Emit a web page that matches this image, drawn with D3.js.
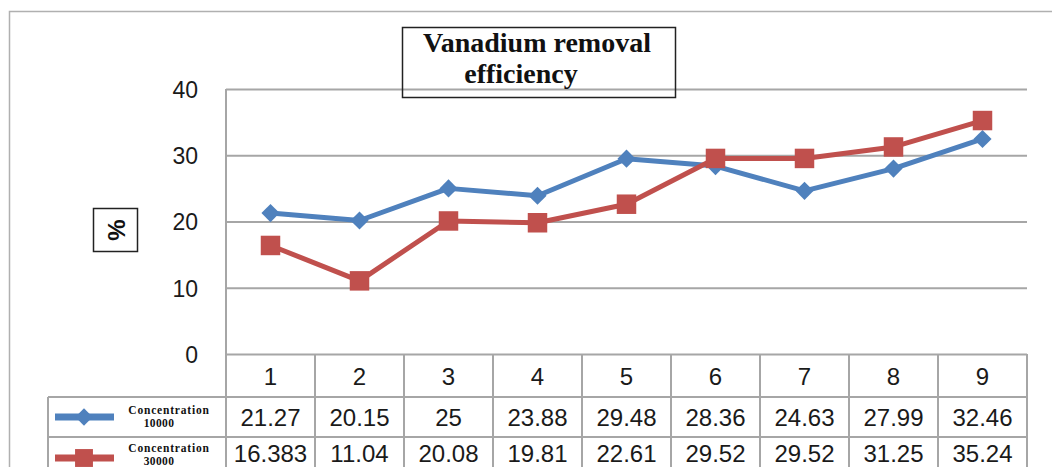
<!DOCTYPE html>
<html>
<head>
<meta charset="utf-8">
<script src="https://cdn.jsdelivr.net/npm/d3@7/dist/d3.min.js"></script>
<style>
  html, body { margin: 0; padding: 0; background: #fff; }
  svg { display: block; }
</style>
</head>
<body>
<div id="chart"></div>
<script>
// ---- data ----
const categories = ["1", "2", "3", "4", "5", "6", "7", "8", "9"];
const series10000 = [21.27, 20.15, 25, 23.88, 29.48, 28.36, 24.63, 27.99, 32.46];
const series30000 = [16.383, 11.04, 20.08, 19.81, 22.61, 29.52, 29.52, 31.25, 35.24];
const seriesNames = ["Concentration", "Concentration"];
const seriesSub = ["10000", "30000"];
const seriesLabels10000 = ["21.27", "20.15", "25", "23.88", "29.48", "28.36", "24.63", "27.99", "32.46"];
const seriesLabels30000 = ["16.383", "11.04", "20.08", "19.81", "22.61", "29.52", "29.52", "31.25", "35.24"];
const yTicks = [0, 10, 20, 30, 40];
const titleLines = ["Vanadium removal", "efficiency"];
const yTitle = "%";

// ---- layout ----
const W = 1052, H = 467;
const plot = { left: 226, right: 1027, top: 89, bottom: 354 };
const rowH = [43, 40, 40]; // category row, series rows
const legendLeft = 48;
const blue = "#4F81BD", red = "#C0504D", grid = "#a6a6a6";

const svg = d3.select("#chart").append("svg").attr("width", W).attr("height", H);

// outer border
svg.append("rect").attr("x", 9.5).attr("y", 11.5).attr("width", W + 20).attr("height", H + 20)
  .attr("fill", "none").attr("stroke", "#b0b0b0").attr("stroke-width", 1.5);

const x = d3.scaleBand().domain(categories).range([plot.left, plot.right]).padding(0);
const y = d3.scaleLinear().domain([0, 40]).range([plot.bottom, plot.top]);

// gridlines
const gAxis = svg.append("g").attr("transform", `translate(${plot.left},0)`)
  .call(d3.axisLeft(y).tickValues(yTicks).tickSize(-(plot.right - plot.left)).tickPadding(28));
gAxis.select(".domain").remove();
gAxis.selectAll(".tick line").attr("stroke", grid).attr("stroke-width", 2);
gAxis.selectAll(".tick text").attr("font-family", "Liberation Sans, Arial, sans-serif")
  .attr("font-size", 23).attr("fill", "#1a1a1a").attr("dy", "0.36em");

// vertical axis line extends down into table
svg.append("line").attr("x1", plot.left).attr("x2", plot.left)
  .attr("y1", plot.top).attr("y2", H + 5).attr("stroke", grid).attr("stroke-width", 2);

// ---- table ----
const r0 = plot.bottom, r1 = r0 + rowH[0], r2 = r1 + rowH[1], r3 = r2 + rowH[2];
const tbl = svg.append("g");
tbl.append("line").attr("x1", legendLeft).attr("x2", plot.right).attr("y1", r1).attr("y2", r1)
  .attr("stroke", grid).attr("stroke-width", 2);
tbl.append("line").attr("x1", legendLeft).attr("x2", plot.right).attr("y1", r2).attr("y2", r2)
  .attr("stroke", grid).attr("stroke-width", 2);
tbl.append("line").attr("x1", legendLeft).attr("x2", legendLeft).attr("y1", r1).attr("y2", H + 5)
  .attr("stroke", grid).attr("stroke-width", 2);
const colEdges = categories.map(c => x(c) + x.bandwidth());
tbl.selectAll("line.col").data(colEdges).join("line").attr("class", "col")
  .attr("x1", d => d).attr("x2", d => d).attr("y1", r0).attr("y2", H + 5)
  .attr("stroke", grid).attr("stroke-width", 2);

const cellFont = "Liberation Sans, Arial, sans-serif";
tbl.selectAll("text.cat").data(categories).join("text").attr("class", "cat")
  .attr("x", d => x(d) + x.bandwidth() / 2).attr("y", (r0 + r1) / 2 + 1).attr("dy", "0.36em")
  .attr("text-anchor", "middle").attr("font-family", cellFont).attr("font-size", 24)
  .attr("fill", "#1a1a1a").text(d => d);
tbl.selectAll("text.v1").data(seriesLabels10000).join("text").attr("class", "v1")
  .attr("x", (d, i) => x(categories[i]) + x.bandwidth() / 2).attr("y", (r1 + r2) / 2).attr("dy", "0.36em")
  .attr("text-anchor", "middle").attr("font-family", cellFont).attr("font-size", 24)
  .attr("fill", "#1a1a1a").text(d => d);
tbl.selectAll("text.v2").data(seriesLabels30000).join("text").attr("class", "v2")
  .attr("x", (d, i) => x(categories[i]) + x.bandwidth() / 2).attr("y", (r2 + r3) / 2 - 4).attr("dy", "0.36em")
  .attr("text-anchor", "middle").attr("font-family", cellFont).attr("font-size", 24)
  .attr("fill", "#1a1a1a").text(d => d);

// legend keys
const serif = "Liberation Serif, 'Times New Roman', serif";
const legendRows = [
  { y: (r1 + r2) / 2, color: blue, shape: "diamond", t1: -3, t2: 10 },
  { y: (r2 + r3) / 2 + 1, color: red, shape: "square", t1: -6, t2: 7 }
];
legendRows.forEach((L, i) => {
  const ly = Math.round(L.y);
  svg.append("line").attr("x1", 55).attr("x2", 114).attr("y1", ly).attr("y2", ly)
    .attr("stroke", L.color).attr("stroke-width", 7);
  svg.append("path").attr("transform", `translate(84,${ly})`)
    .attr("d", d3.symbol().type(L.shape === "diamond" ? d3.symbolDiamond2 : d3.symbolSquare)
      .size(L.shape === "diamond" ? 190 : 320)())
    .attr("fill", L.color);
  svg.append("text").attr("x", 169).attr("y", ly + L.t1).attr("text-anchor", "middle")
    .attr("font-family", serif).attr("font-weight", "bold").attr("font-size", 11.5)
    .attr("letter-spacing", 0.8).attr("fill", "#111").text(seriesNames[i]);
  svg.append("text").attr("x", 159).attr("y", ly + L.t2).attr("text-anchor", "middle")
    .attr("font-family", serif).attr("font-weight", "bold").attr("font-size", 11.5)
    .attr("letter-spacing", 0.4).attr("fill", "#111").text(seriesSub[i]);
});

// ---- lines & markers ----
const cx = c => x(c) + x.bandwidth() / 2;
const line = d3.line().x((d, i) => cx(categories[i])).y(d => y(d));
const allSeries = [
  { values: series10000, color: blue, shape: d3.symbolDiamond2, size: 210 },
  { values: series30000, color: red, shape: d3.symbolSquare, size: 380 }
];
allSeries.forEach(s => {
  svg.append("path").datum(s.values).attr("d", line).attr("fill", "none")
    .attr("stroke", s.color).attr("stroke-width", 5).attr("stroke-linejoin", "round");
  svg.selectAll(null).data(s.values).join("path")
    .attr("transform", (d, i) => `translate(${cx(categories[i])},${y(d)})`)
    .attr("d", d3.symbol().type(s.shape).size(s.size)())
    .attr("fill", s.color);
});

// ---- title box ----
svg.append("rect").attr("x", 402.5).attr("y", 27.5).attr("width", 273).attr("height", 70)
  .attr("fill", "none").attr("stroke", "#222").attr("stroke-width", 1.5);
svg.append("text").attr("x", 537).attr("y", 52).attr("text-anchor", "middle")
  .attr("font-family", serif).attr("font-weight", "bold").attr("font-size", 28)
  .attr("fill", "#111").text(titleLines[0]);
svg.append("text").attr("x", 521).attr("y", 83).attr("text-anchor", "middle")
  .attr("font-family", serif).attr("font-weight", "bold").attr("font-size", 28)
  .attr("fill", "#111").text(titleLines[1]);

// ---- y title box ----
svg.append("rect").attr("x", 93.5).attr("y", 208.5).attr("width", 44).attr("height", 43)
  .attr("fill", "#fff").attr("stroke", "#222").attr("stroke-width", 1.5);
svg.append("text").attr("transform", "translate(116,230) rotate(-90)")
  .attr("text-anchor", "middle").attr("dy", "0.36em")
  .attr("font-family", "Liberation Sans, Arial, sans-serif").attr("font-weight", "bold")
  .attr("font-size", 24).attr("fill", "#111").text(yTitle);
</script>
</body>
</html>
